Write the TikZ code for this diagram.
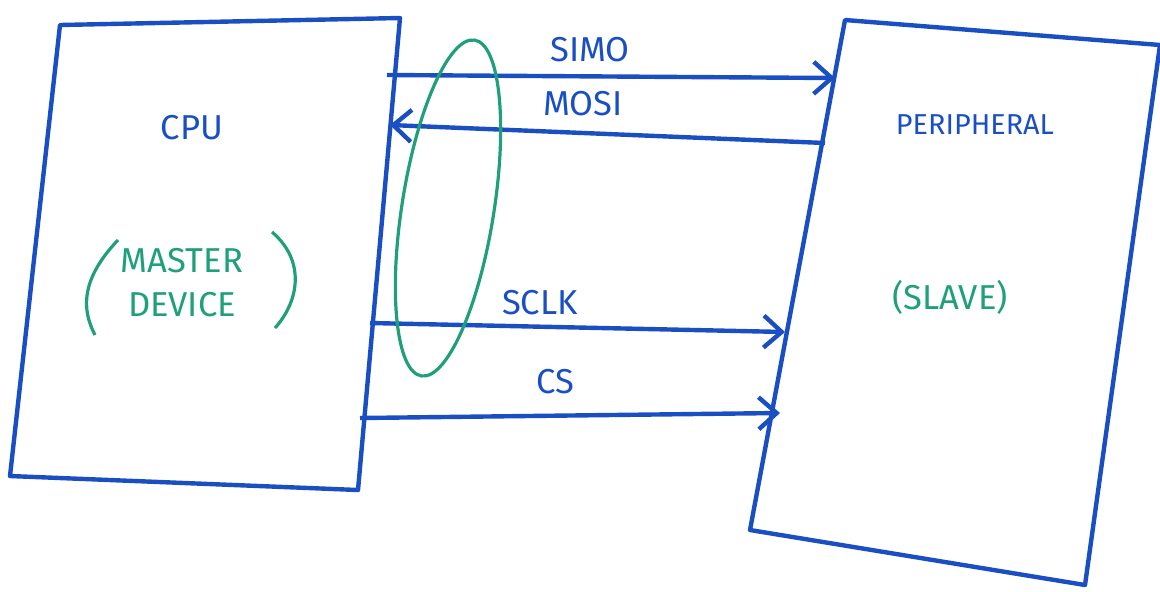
\documentclass[tikz,border=0pt]{standalone}
\usepackage{fontspec}
\setmainfont{Fira Sans}
\usetikzlibrary{arrows.meta}
\definecolor{pen}{HTML}{1A4FC4}
\definecolor{ink}{HTML}{1FA07A}
\tikzset{
  box/.style={draw=pen, line width=2.2pt, line join=round},
  sig/.style={draw=pen, line width=2.2pt, -{Straight Barb[length=9pt,width=16pt,line width=2.2pt]}},
  lbl/.style={text=pen, font=\LARGE, inner sep=1pt},
  glbl/.style={text=ink, font=\LARGE, inner sep=1pt, align=center},
}
\begin{document}
\begin{tikzpicture}[x=0.5pt,y=-0.5pt]
\useasboundingbox (0,0) rectangle (1160,591);
% CPU box
\draw[box] (60,25) -- (400,18) -- (358,490) -- (10,476) -- cycle;
% Peripheral box
\draw[box] (845,20) -- (1160,45) -- (1085,585) -- (750,530) -- cycle;
% arrow end points
\coordinate (simoA) at (387,75);  \coordinate (simoB) at (835,78);
\coordinate (mosiA) at (825,143); \coordinate (mosiB) at (390,125);
\coordinate (sclkA) at (370,323); \coordinate (sclkB) at (785,332);
\coordinate (csA) at (360,418);   \coordinate (csB) at (780,413);
\draw[sig] (simoA) -- (simoB);
\draw[sig] (mosiA) -- (mosiB);
\draw[sig] (sclkA) -- (sclkB);
\draw[sig] (csA) -- (csB);
% labels
\node[lbl] (simo) at (590,50) {SIMO};
\node[lbl] (mosi) at (583,104) {MOSI};
\node[lbl] (sclk) at (540,303) {SCLK};
\node[lbl] (cs) at (555,382) {CS};
\node[lbl] (cpu) at (192,128) {CPU};
\node[lbl, font=\Large] (per) at (975,125) {PERIPHERAL};
\node[glbl] (master) at (182,283) {MASTER\\DEVICE};
\draw[ink, line width=1.6pt] (118,240) .. controls (80,280) and (82,310) .. (95,335);
\draw[ink, line width=1.6pt] (272,232) .. controls (305,260) and (300,300) .. (275,328);
\node[glbl] (slave) at (950,297) {(SLAVE)};
% green group ellipse
\draw[ink, line width=1.6pt, rotate around={-9:(448,208)}] (448,208) ellipse (23pt and 85pt);
\end{tikzpicture}
\end{document}
